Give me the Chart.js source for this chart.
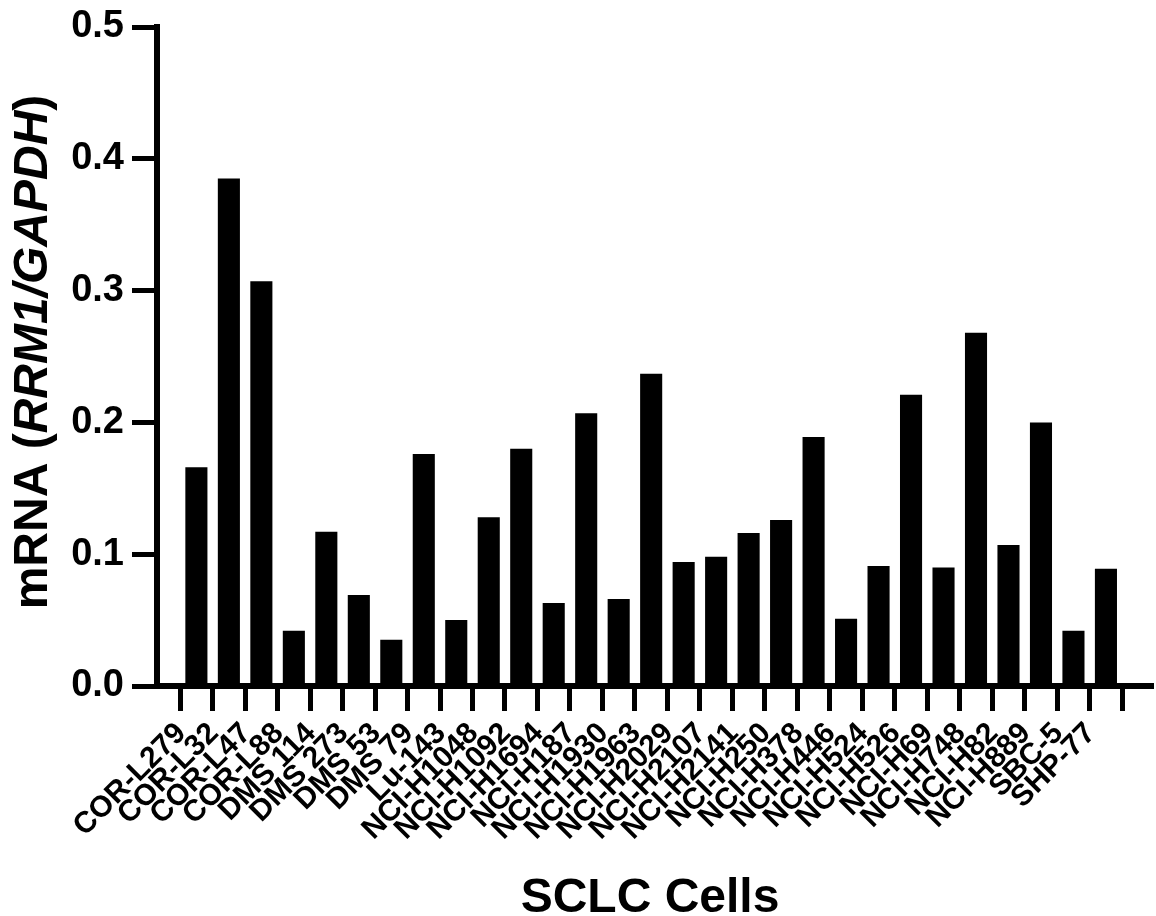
<!DOCTYPE html>
<html lang="en">
<head>
    <meta charset="UTF-8">
    <title>RRM1 mRNA in SCLC cells</title>
    <script src="https://cdn.jsdelivr.net/npm/chart.js"></script>
    <style>
        body {
            margin: 0;
            background: #ffffff;
        }
        #chart {
            display: block;
        }
    </style>
</head>
<body>
    <canvas id="chart" width="1156" height="916"></canvas>

    <script>
        // Cell lines along the x axis
        const cellLines = [
            'COR-L279', 'COR-L32', 'COR-L47', 'COR-L88', 'DMS 114', 'DMS 273',
            'DMS 53', 'DMS 79', 'Lu-143', 'NCI-H1048', 'NCI-H1092', 'NCI-H1694',
            'NCI-H187', 'NCI-H1930', 'NCI-H1963', 'NCI-H2029', 'NCI-H2107',
            'NCI-H2141', 'NCI-H250', 'NCI-H378', 'NCI-H446', 'NCI-H524',
            'NCI-H526', 'NCI-H69', 'NCI-H748', 'NCI-H82', 'NCI-H889', 'SBC-5', 'SHP-77'
        ];

        // mRNA (RRM1/GAPDH)
        const rrm1Values = [
            0.166, 0.385, 0.307, 0.042, 0.117, 0.069,
            0.035, 0.176, 0.050, 0.128, 0.180, 0.063,
            0.207, 0.066, 0.237, 0.094, 0.098,
            0.116, 0.126, 0.189, 0.051, 0.091,
            0.221, 0.090, 0.268, 0.107, 0.200, 0.042, 0.089
        ];

        const yTicks = [0.0, 0.1, 0.2, 0.3, 0.4, 0.5];

        const fontFamily = 'Arial, "Liberation Sans", Helvetica, sans-serif';

        // Axis titles drawn by hand so the gene names can be italic
        const axisTitles = {
            id: 'axisTitles',
            afterDraw(chart) {
                const ctx = chart.ctx;
                ctx.save();
                ctx.fillStyle = '#000';
                ctx.textBaseline = 'alphabetic';

                // x title
                ctx.font = 'bold 48px ' + fontFamily;
                ctx.textAlign = 'center';
                ctx.fillText('SCLC Cells', 650, 912);

                // y title, mixed upright / italic
                const parts = [
                    { text: 'mRNA (', font: 'bold 48px ' + fontFamily },
                    { text: 'RRM1/GAPDH', font: 'italic bold 48px ' + fontFamily },
                    { text: ')', font: 'bold 48px ' + fontFamily }
                ];
                let total = 0;
                parts.forEach(p => {
                    ctx.font = p.font;
                    p.w = ctx.measureText(p.text).width;
                    total += p.w;
                });
                ctx.translate(47, 352);
                ctx.rotate(-Math.PI / 2);
                ctx.textAlign = 'left';
                let x = -total / 2;
                parts.forEach(p => {
                    ctx.font = p.font;
                    ctx.fillText(p.text, x, 0);
                    x += p.w;
                });
                ctx.restore();
            }
        };

        const ctx = document.getElementById('chart').getContext('2d');
        new Chart(ctx, {
            type: 'bar',
            data: {
                datasets: [{
                    data: rrm1Values.map((v, i) => ({ x: i, y: v })),
                    backgroundColor: '#000000',
                    borderWidth: 0,
                    barPercentage: 0.68,
                    categoryPercentage: 1.0
                }]
            },
            plugins: [axisTitles],
            options: {
                responsive: false,
                animation: false,
                events: [],
                layout: {
                    padding: { top: 22, right: 3, left: 0, bottom: 0 }
                },
                plugins: {
                    legend: { display: false },
                    tooltip: { enabled: false }
                },
                scales: {
                    x: {
                        type: 'linear',
                        min: -0.684,
                        max: 28.92,
                        afterBuildTicks: scale => {
                            scale.ticks = cellLines.map((name, i) => ({ value: i }));
                        },
                        afterFit: scale => {
                            scale.height = 230;
                        },
                        border: { display: true, color: '#000', width: 6 },
                        grid: {
                            drawOnChartArea: false,
                            drawTicks: true,
                            tickLength: 25,
                            tickWidth: 5,
                            tickColor: '#000'
                        },
                        ticks: {
                            autoSkip: false,
                            minRotation: 45,
                            maxRotation: 45,
                            padding: 7,
                            labelOffset: -15,
                            color: '#000',
                            font: { family: fontFamily, size: 30, weight: 'bold', lineHeight: 1 },
                            callback: value => cellLines[value]
                        }
                    },
                    y: {
                        min: 0,
                        max: 0.5,
                        afterBuildTicks: scale => {
                            scale.ticks = yTicks.map(v => ({ value: v }));
                        },
                        afterFit: scale => {
                            scale.width = 157;
                        },
                        border: { display: true, color: '#000', width: 6 },
                        grid: {
                            drawOnChartArea: false,
                            drawTicks: true,
                            tickLength: 25,
                            tickWidth: 5,
                            tickColor: '#000'
                        },
                        ticks: {
                            padding: 8,
                            color: '#000',
                            font: { family: fontFamily, size: 38, weight: 'bold', lineHeight: 1 },
                            callback: value => value.toFixed(1)
                        }
                    }
                }
            }
        });
    </script>
</body>
</html>
